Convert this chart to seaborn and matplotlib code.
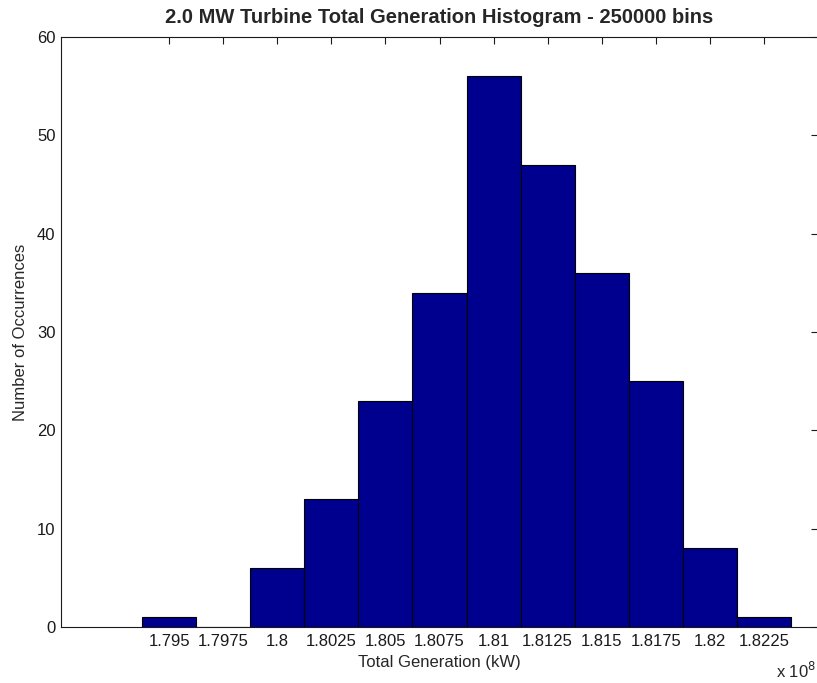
import numpy as np
import pandas as pd
import matplotlib
matplotlib.use("Agg")
import matplotlib.pyplot as plt
from matplotlib.ticker import FuncFormatter
import seaborn as sns

# bin centres (kW) and counts
bin_centers = [1.795e8, 1.7975e8, 1.8e8, 1.8025e8, 1.805e8, 1.8075e8,
               1.81e8, 1.8125e8, 1.815e8, 1.8175e8, 1.82e8, 1.8225e8]
counts = [1, 0, 6, 13, 23, 34, 56, 47, 36, 25, 8, 1]
bin_width = 250000
y_ticks = [0, 10, 20, 30, 40, 50, 60]

sns.set_style("white")
plt.rcParams['font.family'] = ['Liberation Sans', 'DejaVu Sans']

df = pd.DataFrame({"gen": bin_centers, "n": counts})

fig = plt.figure(figsize=(8.17, 6.83), dpi=100)
ax = fig.add_axes([61 / 817, 56 / 683, 757 / 817, 590 / 683])

sns.histplot(data=df, x="gen", weights="n", binwidth=bin_width,
             binrange=(bin_centers[0] - bin_width / 2, bin_centers[-1] + bin_width / 2),
             ax=ax, color="#00008F", alpha=1, edgecolor="black", linewidth=0.8)

ax.set_xlim(1.79e8, 1.825e8)
ax.set_ylim(0, 60)
ax.set_xticks(bin_centers)
ax.set_yticks(y_ticks)
ax.xaxis.set_major_formatter(FuncFormatter(lambda v, p: f"{v / 1e8:g}"))

ax.tick_params(direction="in", length=5, width=0.8, top=True, right=True,
               labelsize=12, colors="#1a1a1a", pad=5)
ax.tick_params(axis="y", pad=4)
for s in ax.spines.values():
    s.set_color("#1a1a1a")
    s.set_linewidth(0.8)

ax.set_xlabel("Total Generation (kW)", fontsize=12, labelpad=4)
ax.set_ylabel("Number of Occurrences", fontsize=12, labelpad=6)
ax.set_title("2.0 MW Turbine Total Generation Histogram - 250000 bins",
             fontsize=14.5, fontweight="bold", pad=10)
fig.text(776 / 817, 1 - 678 / 683, "x 10$^8$", fontsize=12, ha="left", va="baseline")

fig.savefig("out.png", dpi=100)
